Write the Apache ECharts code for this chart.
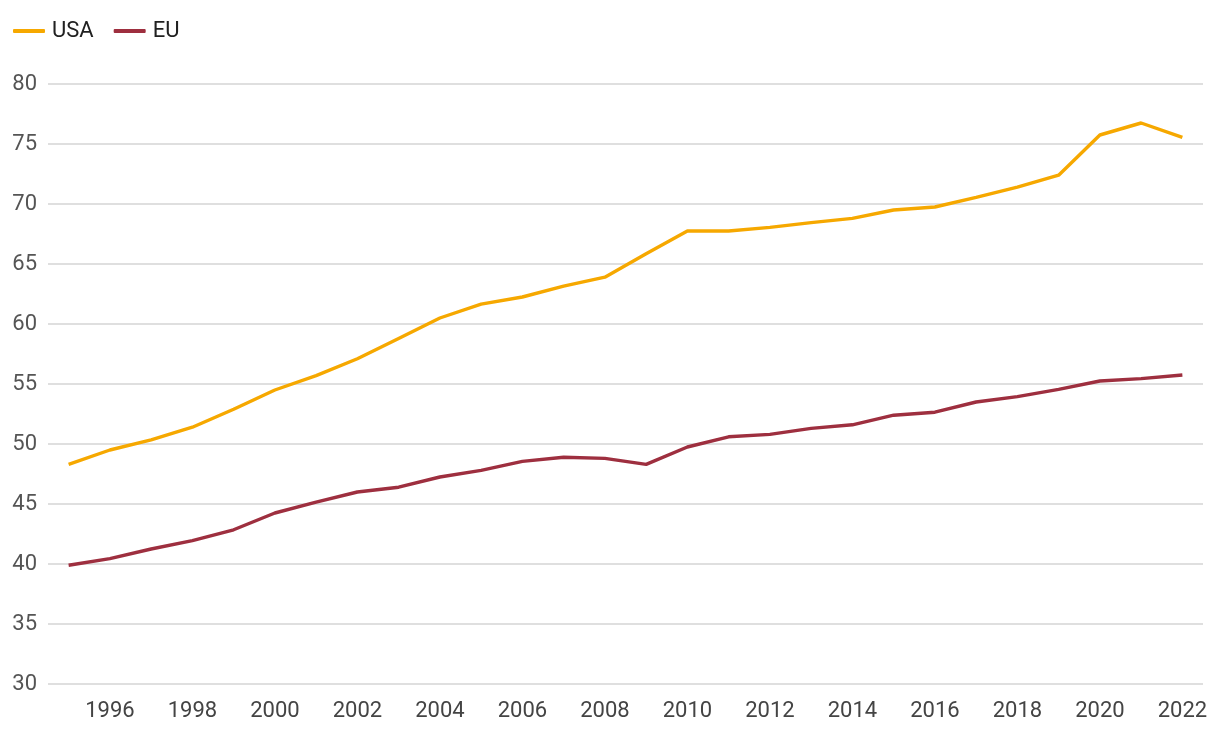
<!DOCTYPE html>
<html>
<head>
<meta charset="utf-8">
<script src="https://cdn.jsdelivr.net/npm/echarts@6/dist/echarts.min.js"></script>
<style>
html,body{margin:0;padding:0;background:#fff;}
#chart{width:1220px;height:734px;}
</style>
</head>
<body>
<div id="chart"></div>
<script>
var years = ['1995','1996','1997','1998','1999','2000','2001','2002','2003','2004','2005','2006','2007','2008','2009','2010','2011','2012','2013','2014','2015','2016','2017','2018','2019','2020','2021','2022'];
var usa = [48.3,49.5,50.35,51.4,52.9,54.5,55.7,57.1,58.8,60.5,61.65,62.25,63.15,63.9,65.85,67.75,67.75,68.05,68.45,68.8,69.5,69.75,70.55,71.4,72.4,75.75,76.75,75.55];
var eu = [39.9,40.45,41.25,41.95,42.85,44.25,45.15,46.0,46.4,47.25,47.8,48.55,48.9,48.8,48.3,49.75,50.6,50.8,51.3,51.6,52.4,52.65,53.5,53.95,54.55,55.25,55.45,55.75];
var yMin = 30, yMax = 80, yStep = 5;

var chart = echarts.init(document.getElementById('chart'));
chart.setOption({
  animation: false,
  textStyle: {fontFamily: 'Roboto'},
  legend: {
    left: 8, top: 15,
    itemWidth: 32, itemHeight: 4, itemGap: 20,
    icon: 'roundRect',
    textStyle: {fontSize: 22, color: '#212121', fontFamily: 'Roboto', padding: [0, 0, 0, 2]},
    data: ['USA','EU']
  },
  grid: {left: 48, right: 17, top: 84, bottom: 50},
  xAxis: {
    type: 'category',
    data: years,
    boundaryGap: true,
    axisLine: {show: false},
    axisTick: {show: false},
    axisLabel: {
      interval: function(i){ return i % 2 === 1; },
      fontSize: 22, color: '#444', margin: 16, fontFamily: 'Roboto'
    }
  },
  yAxis: {
    type: 'value',
    min: yMin, max: yMax, interval: yStep,
    axisLine: {show: false},
    axisTick: {show: false},
    axisLabel: {fontSize: 22, color: '#555', margin: 11, fontFamily: 'Roboto'},
    splitLine: {lineStyle: {color: '#d4d4d4', width: 1.5}}
  },
  series: [
    {name: 'USA', type: 'line', data: usa, symbol: 'none', lineStyle: {width: 3.4, color: '#F6A800'}, itemStyle: {color: '#F6A800'}},
    {name: 'EU', type: 'line', data: eu, symbol: 'none', lineStyle: {width: 3.4, color: '#9E2F3F'}, itemStyle: {color: '#9E2F3F'}}
  ]
});
</script>
</body>
</html>
